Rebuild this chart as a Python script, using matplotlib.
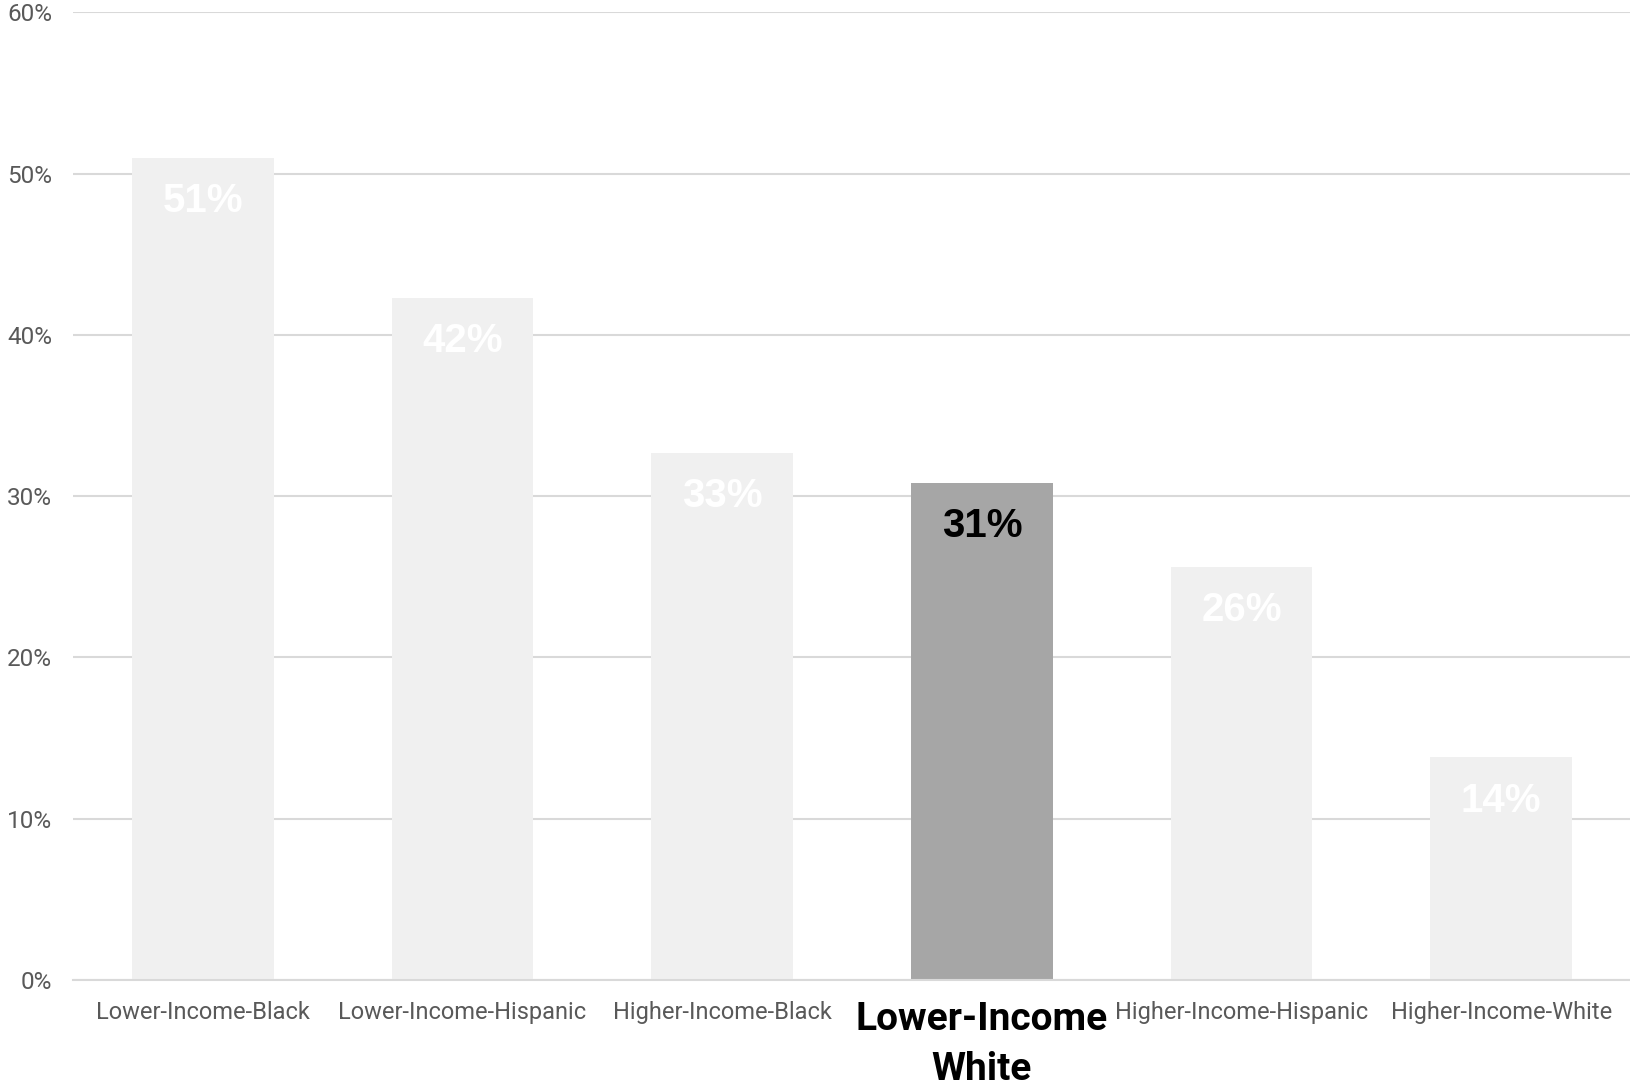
import numpy as np
import matplotlib.pyplot as plt

# data
groups = ['Lower-Income-Black', 'Lower-Income-Hispanic', 'Higher-Income-Black',
          'Lower-Income\nWhite', 'Higher-Income-Hispanic', 'Higher-Income-White']
values = [0.51, 0.423, 0.327, 0.308, 0.256, 0.138]
value_labels = ['51%', '42%', '33%', '31%', '26%', '14%']
highlight = 3

fig = plt.figure(figsize=(16.31, 10.85), dpi=100)
ax = fig.add_axes([0.0448, 0.0968, 0.9552, 0.8917])

x = np.arange(len(groups))
colors = ['#f0f0f0'] * len(groups)
colors[highlight] = '#a6a6a6'
ax.bar(x, values, width=0.545, color=colors, zorder=2)

# value labels inside the top of each bar
for i, (v, lab) in enumerate(zip(values, value_labels)):
    c = 'black' if i == highlight else 'white'
    ax.annotate(lab, (x[i], v), xytext=(0, -31), textcoords='offset points',
                ha='center', va='center', fontsize=29, fontweight='bold',
                color=c, family='Liberation Sans', zorder=3)

ax.set_xlim(-0.5, len(groups) - 0.5)
ax.set_ylim(0, 0.6)
ax.set_yticks(np.arange(0, 0.61, 0.1))
ax.set_yticklabels([f'{int(round(t * 100))}%' for t in np.arange(0, 0.61, 0.1)],
                   fontsize=17.5, color='#595959', family='Roboto')
ax.yaxis.grid(True, color='#d9d9d9', linewidth=1.5, zorder=0)
ax.set_axisbelow(True)
ax.tick_params(axis='y', length=0, pad=15)
ax.tick_params(axis='x', length=0, pad=15)

ax.set_xticks(x)
ax.set_xticklabels(groups)
for i, t in enumerate(ax.get_xticklabels()):
    if i == highlight:
        t.set_fontsize(28)
        t.set_fontweight('bold')
        t.set_color('black')
        t.set_family('Roboto')
        t.set_linespacing(1.45)
    else:
        t.set_fontsize(17)
        t.set_color('#595959')
        t.set_family('Roboto')

for s in ['top', 'right', 'left']:
    ax.spines[s].set_visible(False)
ax.spines['bottom'].set_color('#d9d9d9')
ax.spines['bottom'].set_linewidth(1.5)

fig.savefig('out.png', dpi=100)
